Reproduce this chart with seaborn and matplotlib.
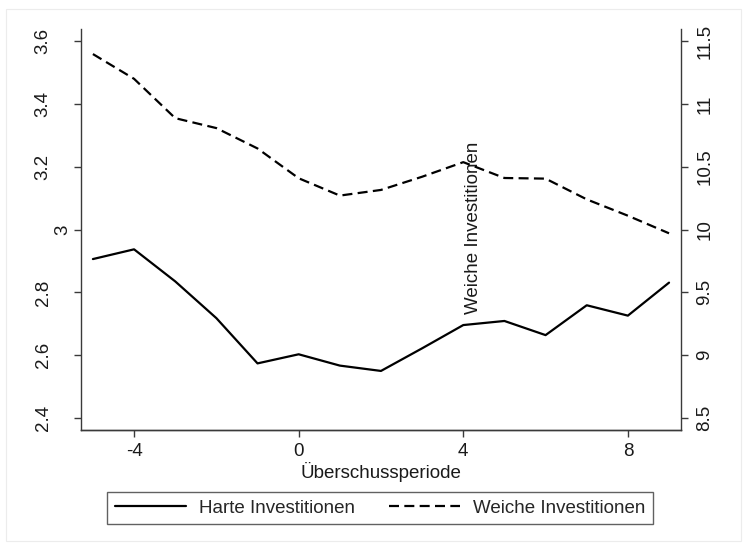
import matplotlib
matplotlib.use("Agg")
import matplotlib.pyplot as plt
import matplotlib.transforms as mtransforms
import seaborn as sns
import pandas as pd
from matplotlib.patches import Rectangle

# data
periode = [-5, -4, -3, -2, -1, 0, 1, 2, 3, 4, 5, 6, 7, 8, 9]
harte = [2.906, 2.937, 2.835, 2.718, 2.574, 2.603, 2.567, 2.550, 2.622,
         2.696, 2.709, 2.664, 2.759, 2.726, 2.831]
weiche = [11.396, 11.199, 10.886, 10.807, 10.645, 10.408, 10.27, 10.315,
          10.42, 10.536, 10.41, 10.405, 10.24, 10.11, 9.97]
x_ticks = [-4, 0, 4, 8]
left_ticks = [2.4, 2.6, 2.8, 3.0, 3.2, 3.4, 3.6]
left_labels = ["2.4", "2.6", "2.8", "3", "3.2", "3.4", "3.6"]
right_ticks = [8.5, 9, 9.5, 10, 10.5, 11, 11.5]
right_labels = ["8.5", "9", "9.5", "10", "10.5", "11", "11.5"]

df = pd.DataFrame({"periode": periode, "harte": harte, "weiche": weiche})

sns.set_style("ticks")
plt.rcParams["font.family"] = ["Liberation Sans", "DejaVu Sans"]
fs = 13.5
spine_col = "#3a3a3a"

fig = plt.figure(figsize=(7.47, 5.48), dpi=100)
fig.patches.append(Rectangle((0.008, 0.012), 0.984, 0.972, transform=fig.transFigure,
                             fill=False, edgecolor="#ececec", linewidth=0.8))
ax = fig.add_axes([0.1084, 0.2153, 0.8032, 0.7317])
ax2 = ax.twinx()

sns.lineplot(data=df, x="periode", y="harte", ax=ax, color="black", linewidth=1.6,
             label="Harte Investitionen", legend=False)
sns.lineplot(data=df, x="periode", y="weiche", ax=ax2, color="black", linewidth=1.6,
             label="Weiche Investitionen", legend=False)
ax2.lines[0].set_dashes((4.5, 2.4))

ax.set_xlim(-5.29, 9.29)
ax.set_ylim(2.362, 3.638)
ax2.set_ylim(8.405, 11.595)

ax.set_xticks(x_ticks)
ax.set_xticklabels([str(t) for t in x_ticks], fontsize=fs)
ax.set_yticks(left_ticks)
ax.set_yticklabels(left_labels, fontsize=fs, rotation=90, va="center")
ax2.set_yticks(right_ticks)
ax2.set_yticklabels(right_labels, fontsize=fs, rotation=90, va="center")

for a in (ax, ax2):
    a.spines["top"].set_visible(False)
    for s in ("left", "right", "bottom"):
        a.spines[s].set_color(spine_col)
        a.spines[s].set_linewidth(1.0)
    a.tick_params(length=5, width=1, color=spine_col, labelcolor="#1a1a1a")
ax2.spines["left"].set_visible(False)
ax.spines["right"].set_visible(False)
ax.tick_params(axis="y", pad=16)
ax.tick_params(axis="x", pad=4)
ax2.tick_params(axis="y", pad=6)

# short labels sit closer to the axis, as in the original
for lab in ax.get_yticklabels():
    if len(lab.get_text()) == 1:
        lab.set_transform(lab.get_transform() +
                          mtransforms.ScaledTranslation(0.2, 0, fig.dpi_scale_trans))

ax.set_xlabel("Überschussperiode", fontsize=fs, labelpad=2, color="#1a1a1a")
ax.set_ylabel("")
ax2.set_ylabel("")

# misplaced right-axis title as in the original
ax.text(4.25, 3.005, "Weiche Investitionen", rotation=90, fontsize=fs,
        ha="center", va="center", color="#1a1a1a")

handles = [ax.lines[0], ax2.lines[0]]
leg = fig.legend(handles, ["Harte Investitionen", "Weiche Investitionen"],
                 loc="center", bbox_to_anchor=(0.509, 0.073), ncol=2, fontsize=fs,
                 frameon=True, fancybox=False, handlelength=3.8, handletextpad=0.7,
                 columnspacing=1.8, borderpad=0.4)
leg.get_frame().set_edgecolor(spine_col)
leg.get_frame().set_linewidth(1.0)

fig.savefig("out.png", dpi=100)
